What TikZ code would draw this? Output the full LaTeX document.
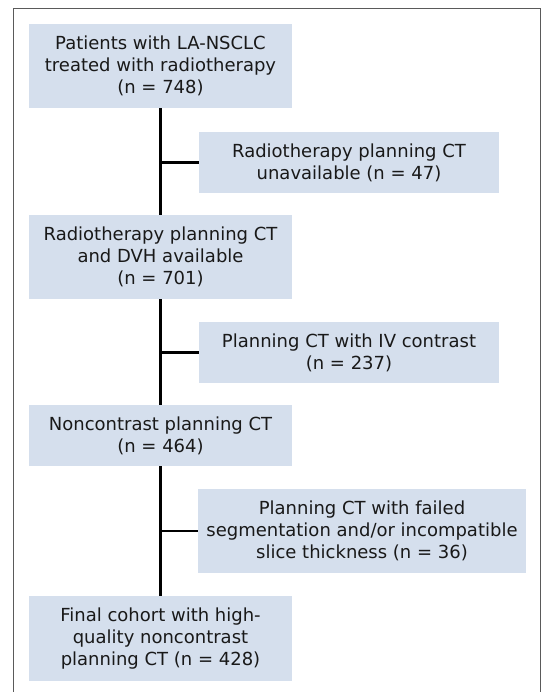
\documentclass[tikz,border=0pt]{standalone}
\usepackage{fontspec}
\setmainfont{DejaVu Sans}
\usepackage{tikz}
\usetikzlibrary{positioning, calc}
\definecolor{boxblue}{RGB}{213,223,237}
\definecolor{framegray}{RGB}{90,90,90}
\definecolor{textblack}{RGB}{25,25,25}

\begin{document}
\begin{tikzpicture}[x=1pt, y=-1pt,
    every node/.style={font=\fontsize{18}{22}\selectfont, text=textblack},
    flowbox/.style={fill=boxblue, align=center, inner sep=0pt, minimum width=263pt,
        execute at begin node={\rule{0pt}{14.8pt}}},
    exclbox/.style={flowbox, minimum width=300pt},
    link/.style={line width=2.6pt}]
            \useasboundingbox (0,0) rectangle (542,692);
            \draw[framegray, line width=1pt] (13.5,692) -- (13.5,8.5) -- (540.5,8.5) -- (540.5,692);
            \node[flowbox, minimum height=84pt] (cohort) at (160.5,66) {Patients with LA-NSCLC\\treated with radiotherapy\\(n = 748)};
            \node[exclbox, minimum height=61pt] (noct) at (349,162.5) {Radiotherapy planning CT\\unavailable (n = 47)};
            \node[flowbox, minimum height=84pt] (dvh) at (160.5,257) {Radiotherapy planning CT\\and DVH available\\(n = 701)};
            \node[exclbox, minimum height=61pt] (contrast) at (349,352.5) {Planning CT with IV contrast\\(n = 237)};
            \node[flowbox, minimum height=61pt] (noncontrast) at (160.5,435.5) {Noncontrast planning CT\\(n = 464)};
            \node[exclbox, minimum width=328pt, minimum height=84pt] (failed) at (362,531) {Planning CT with failed\\segmentation and/or incompatible\\slice thickness (n = 36)};
            \node[flowbox, minimum height=85pt] (final) at (160.5,638.5) {Final cohort with high-\\quality noncontrast\\planning CT (n = 428)};
            \draw[link] (cohort.south) -- (dvh.north);
            \draw[link] (dvh.south) -- (noncontrast.north);
            \draw[link] (noncontrast.south) -- (final.north);
            \draw[link] (noct.west) -- (noct.west -| cohort.south);
            \draw[link] (contrast.west) -- (contrast.west -| cohort.south);
            \draw[link] (failed.west) -- (failed.west -| cohort.south);
        \end{tikzpicture}
\end{document}
